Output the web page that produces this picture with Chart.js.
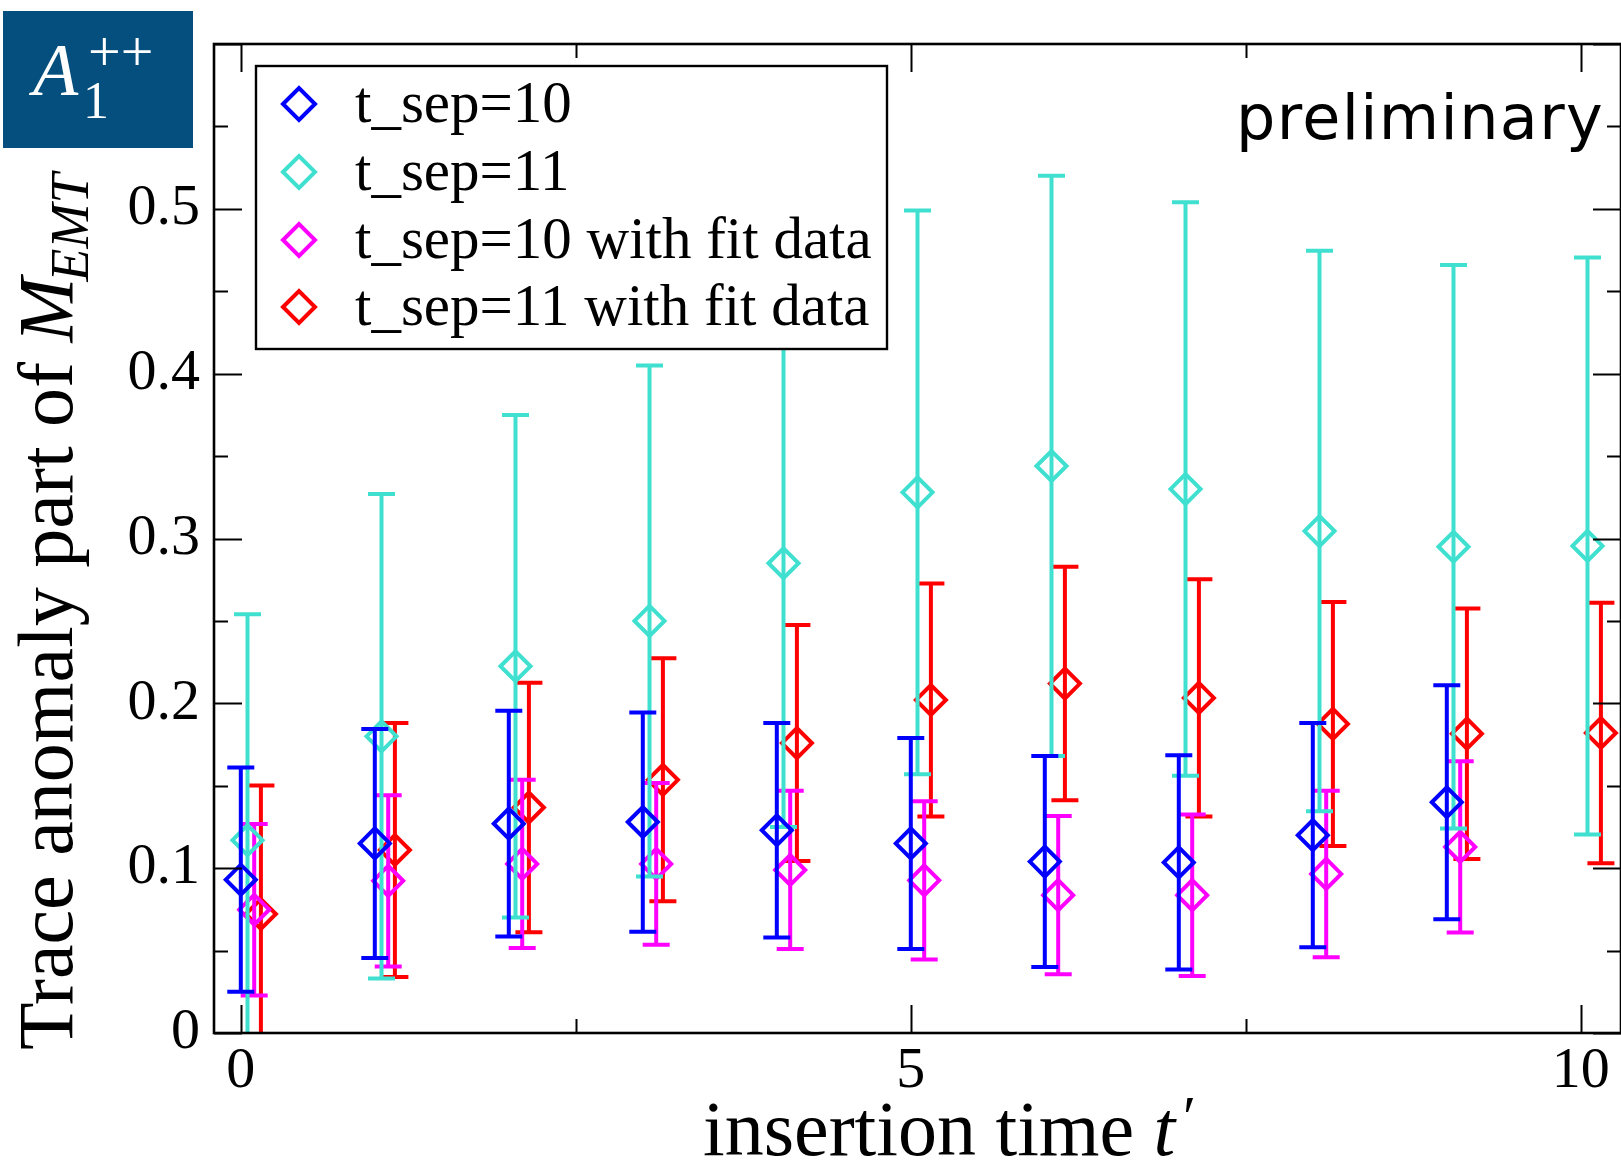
<!DOCTYPE html>
<html><head><meta charset="utf-8">
<script src="https://cdn.jsdelivr.net/npm/chart.js@4"></script>
<style>
html,body{margin:0;padding:0;background:#fff;overflow:hidden;}
#wrap{position:absolute;left:0;top:0;width:1621px;height:1164px;overflow:hidden;background:#fff;}
canvas{display:block;}
</style></head><body>
<div id="wrap"><canvas id="c" width="1640" height="1164" style="width:1640px;height:1164px"></canvas></div>
<script>
// ---- data ----
const tSep10 = [0,1,2,3,4,5,6,7,8,9];
const tSep11 = [0,1,2,3,4,5,6,7,8,9,10];
const valSep10    = [0.093, 0.115, 0.127, 0.128, 0.123, 0.115, 0.104, 0.1035, 0.120, 0.140];
const errSep10    = [0.068, 0.0695, 0.0685, 0.0665, 0.065, 0.064, 0.064, 0.065, 0.068, 0.071];
const valSep11    = [0.117, 0.180, 0.2225, 0.250, 0.285, 0.328, 0.344, 0.330, 0.3045, 0.295, 0.2955];
const errSep11    = [0.137, 0.147, 0.1525, 0.155, 0.160, 0.171, 0.176, 0.174, 0.170, 0.171, 0.175];
const valSep10Fit = [0.0748, 0.0923, 0.1026, 0.1026, 0.0989, 0.0926, 0.0836, 0.0836, 0.0965, 0.1129];
const errSep10Fit = [0.052, 0.052, 0.051, 0.049, 0.048, 0.048, 0.048, 0.049, 0.0505, 0.052];
const valSep11Fit = [0.0722, 0.111, 0.1368, 0.1536, 0.1759, 0.202, 0.212, 0.2033, 0.1875, 0.1816, 0.182];
const errSep11Fit = [0.078, 0.077, 0.0757, 0.0737, 0.0716, 0.0707, 0.0708, 0.072, 0.074, 0.076, 0.079];
const seriesLabels = ['t_sep=10', 't_sep=11', 't_sep=10 with fit data', 't_sep=11 with fit data'];
const xLabelTicks = [0, 5, 10];
const xMinorTicks = [2.5, 7.5];
const yLabelTicks = [0, 0.1, 0.2, 0.3, 0.4, 0.5];
const yMajorTicks = [0, 0.1, 0.2, 0.3, 0.4, 0.5, 0.6];
const yMinorTicks = [0.05, 0.15, 0.25, 0.35, 0.45, 0.55];

// ---- styles ----
const colors = ['#0000ff', '#40e0d0', '#ff00ff', '#ff0000'];
const xOffsets = [0, 0.05, 0.1, 0.15];
const SERIF = '"Liberation Serif", "Times New Roman", serif';
const LW = 4;

const series = [
  {t: tSep10, v: valSep10, e: errSep10},
  {t: tSep11, v: valSep11, e: errSep11},
  {t: tSep10, v: valSep10Fit, e: errSep10Fit},
  {t: tSep11, v: valSep11Fit, e: errSep11Fit}
];

const datasets = series.map((s, i) => ({
  label: seriesLabels[i],
  data: s.t.map((t, j) => ({x: t + xOffsets[i], y: s.v[j]})),
  err: s.e,
  showLine: false,
  pointStyle: 'rectRot',
  pointRadius: 15,
  pointHoverRadius: 15,
  pointBorderWidth: LW,
  borderWidth: LW,
  borderColor: colors[i],
  backgroundColor: 'rgba(0,0,0,0)',
  clip: 20
}));

const errorBars = {
  id: 'errorBars',
  beforeDatasetDraw(chart, args) {
    const ds = chart.data.datasets[args.index];
    const ctx = chart.ctx, xs = chart.scales.x, ys = chart.scales.y, a = chart.chartArea;
    ctx.save();
    ctx.beginPath();
    ctx.rect(a.left, a.top, a.right - a.left, a.bottom - a.top);
    ctx.clip();
    ctx.strokeStyle = ds.borderColor;
    ctx.lineWidth = LW;
    ctx.lineCap = 'butt';
    const cw = 13.5;
    ds.data.forEach((p, j) => {
      const px = xs.getPixelForValue(p.x);
      const hi = ys.getPixelForValue(p.y + ds.err[j]);
      const lo = ys.getPixelForValue(p.y - ds.err[j]);
      ctx.beginPath();
      ctx.moveTo(px, hi); ctx.lineTo(px, lo);
      ctx.moveTo(px - cw, hi); ctx.lineTo(px + cw, hi);
      ctx.moveTo(px - cw, lo); ctx.lineTo(px + cw, lo);
      ctx.stroke();
    });
    ctx.restore();
  }
};

const decorations = {
  id: 'decorations',
  afterDraw(chart) {
    const ctx = chart.ctx, xs = chart.scales.x, ys = chart.scales.y, a = chart.chartArea;
    ctx.save();
    // ticks (inward, all four sides)
    ctx.strokeStyle = '#000';
    ctx.lineWidth = 2;
    const major = 28, minor = 14;
    const vt = (v, len) => {
      const px = Math.round(xs.getPixelForValue(v)) + 0.5;
      ctx.beginPath();
      ctx.moveTo(px, a.bottom); ctx.lineTo(px, a.bottom - len);
      ctx.moveTo(px, a.top); ctx.lineTo(px, a.top + len);
      ctx.stroke();
    };
    const ht = (v, len) => {
      const py = Math.round(ys.getPixelForValue(v)) + 0.5;
      ctx.beginPath();
      ctx.moveTo(a.left, py); ctx.lineTo(a.left + len, py);
      ctx.moveTo(a.right, py); ctx.lineTo(a.right - len, py);
      ctx.stroke();
    };
    xLabelTicks.forEach(v => vt(v, major));
    xMinorTicks.forEach(v => vt(v, minor));
    yMajorTicks.forEach(v => ht(v, major));
    yMinorTicks.forEach(v => ht(v, minor));
    // frame
    ctx.lineWidth = 2.6;
    ctx.strokeRect(a.left, a.top, a.right - a.left, a.bottom - a.top);

    // legend
    const lx = 256, ly = 66, lw = 631, lh = 283;
    ctx.fillStyle = '#fff';
    ctx.fillRect(lx, ly, lw, lh);
    ctx.lineWidth = 2.4;
    ctx.strokeStyle = '#000';
    ctx.strokeRect(lx, ly, lw, lh);
    const rows = [104, 172, 240, 307];
    ctx.font = '59px ' + SERIF;
    ctx.textAlign = 'left';
    ctx.textBaseline = 'alphabetic';
    seriesLabels.forEach((lab, i) => {
      const cx = 299, cy = rows[i], r = 16;
      ctx.strokeStyle = colors[i];
      ctx.lineWidth = LW;
      ctx.beginPath();
      ctx.moveTo(cx - r, cy); ctx.lineTo(cx, cy - r); ctx.lineTo(cx + r, cy); ctx.lineTo(cx, cy + r); ctx.closePath();
      ctx.stroke();
      ctx.fillStyle = '#000';
      ctx.fillText(lab, 355, cy + 18);
    });

    // A1++ badge
    ctx.fillStyle = '#044f7d';
    ctx.fillRect(3, 11, 190, 137);
    ctx.fillStyle = '#fff';
    ctx.font = 'italic 74px ' + SERIF;
    ctx.fillText('A', 33, 95);
    ctx.font = '52px ' + SERIF;
    ctx.fillText('1', 83, 118);
    ctx.font = '58px ' + SERIF;
    ctx.fillText('++', 88, 71);

    // preliminary
    ctx.fillStyle = '#000';
    ctx.font = '62px "DejaVu Sans", sans-serif';
    const word = 'preliminary';
    const w0 = ctx.measureText(word).width;
    if ('letterSpacing' in ctx) ctx.letterSpacing = ((368 - w0) / word.length).toFixed(2) + 'px';
    ctx.textAlign = 'left';
    ctx.fillText(word, 1236, 139);
    if ('letterSpacing' in ctx) ctx.letterSpacing = '0px';

    // x-axis title
    ctx.font = '78px ' + SERIF;
    let x = 703;
    const by = 1155;
    ctx.fillText('insertion time ', x, by);
    x += ctx.measureText('insertion time ').width;
    ctx.font = 'italic 78px ' + SERIF;
    ctx.fillText('t', x, by);
    x += ctx.measureText('t').width;
    ctx.font = 'italic 60px ' + SERIF;
    ctx.fillText('\u2032', x + 4, by - 18);

    // y-axis title
    ctx.translate(72, 1050);
    ctx.rotate(-Math.PI / 2);
    ctx.font = '78px ' + SERIF;
    let yx = 0;
    ctx.fillText('Trace anomaly part of ', yx, 0);
    yx += ctx.measureText('Trace anomaly part of ').width;
    ctx.font = 'italic 78px ' + SERIF;
    ctx.fillText('M', yx, 0);
    yx += ctx.measureText('M').width;
    ctx.font = 'italic 54px ' + SERIF;
    ctx.fillText('EMT', yx - 4, 16);
    ctx.restore();
  }
};

new Chart(document.getElementById('c'), {
  type: 'scatter',
  data: {datasets},
  options: {
    responsive: false,
    animation: false,
    devicePixelRatio: 1,
    events: [],
    layout: {padding: {top: 44, right: 15, left: 0, bottom: 0}},
    plugins: {legend: {display: false}, tooltip: {enabled: false}},
    scales: {
      x: {
        type: 'linear', min: -0.2, max: 10.3,
        afterBuildTicks: s => { s.ticks = xLabelTicks.map(v => ({value: v})); },
        afterFit: s => { s.height = 131; s.paddingLeft = 0; s.paddingRight = 0; },
        grid: {display: false, drawTicks: false},
        border: {display: false},
        ticks: {font: {family: SERIF, size: 58}, color: '#000', padding: 4, maxRotation: 0, autoSkip: false,
                callback: v => String(v)}
      },
      y: {
        type: 'linear', min: 0, max: 0.6,
        afterBuildTicks: s => { s.ticks = yLabelTicks.map(v => ({value: v})); },
        afterFit: s => { s.width = 214; s.paddingTop = 0; s.paddingBottom = 0; },
        grid: {display: false, drawTicks: false},
        border: {display: false},
        ticks: {font: {family: SERIF, size: 58}, color: '#000', padding: 14, autoSkip: false,
                callback: v => (v === 0 ? '0' : v.toFixed(1))}
      }
    }
  },
  plugins: [errorBars, decorations]
});
</script>
</body></html>
